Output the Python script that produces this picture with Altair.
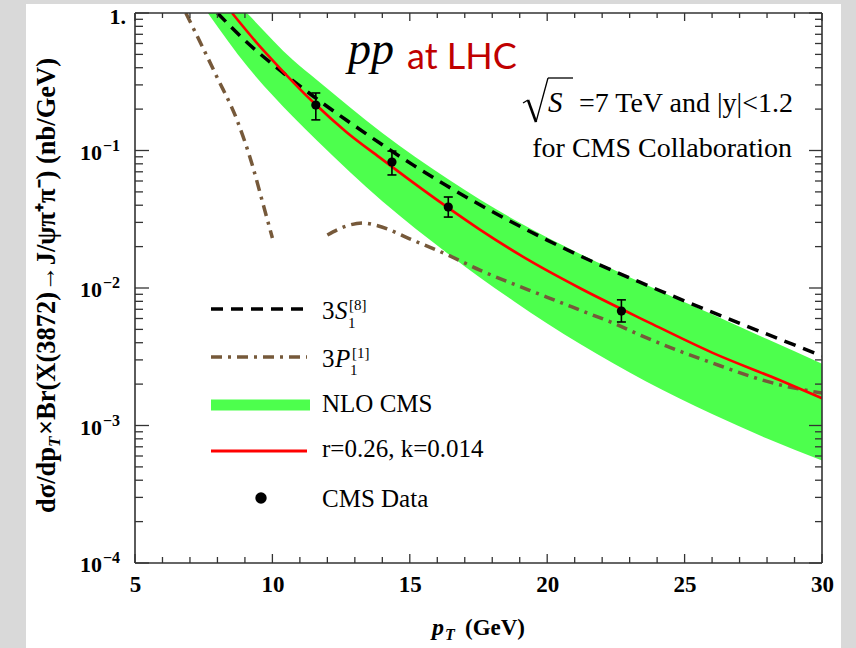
import altair as alt
import pandas as pd

# ---------------- data ----------------
band_pt = [7.65, 9.1, 10.75, 11.62, 14.0, 16.4, 17.55, 18.8, 20.0, 21.2, 23.6, 26.0, 28.0, 30.0]
band_lo = [1.0, 0.406, 0.176, 0.118, 0.0428, 0.0177, 0.0119, 0.00798, 0.00552, 0.00391, 0.00209, 0.00121, 0.000804, 0.000556]
band_hi = [1.95, 0.986, 0.455, 0.326, 0.134, 0.0618, 0.0441, 0.0314, 0.0233, 0.0177, 0.01057, 0.00643, 0.00425, 0.00281]

red_pt = [8.53, 9.4, 10.27, 11.47, 12.7, 13.9, 15.1, 16.35, 17.55, 19.36, 21.18, 23.6, 26.0, 28.45, 30.0]
red_v = [1.0, 0.617, 0.398, 0.226, 0.136, 0.0891, 0.0589, 0.0389, 0.0266, 0.0158, 0.0100, 0.00575, 0.00339, 0.00214, 0.00158]

s8_pt = [8.0, 9.0, 10.27, 11.5, 12.7, 14.0, 15.1, 16.3, 17.55, 19.98, 21.2, 23.6, 26.0, 28.45, 30.0]
s8_v = [1.0, 0.631, 0.384, 0.247, 0.166, 0.110, 0.0789, 0.0561, 0.0403, 0.0224, 0.0171, 0.01054, 0.00667, 0.00425, 0.00321]

p1a_pt = [6.85, 7.98, 8.71, 9.29, 9.65, 10.0]
p1a_v = [1.0, 0.343, 0.167, 0.0759, 0.0415, 0.0231]
p1b_pt = [12.0, 12.6, 13.3, 13.8, 15.1, 16.35, 17.55, 19.98, 21.2, 22.4, 23.6, 26.0, 28.45, 30.0]
p1b_v = [0.0243, 0.0278, 0.0297, 0.0285, 0.0223, 0.0175, 0.0135, 0.0086, 0.0069, 0.00556, 0.00435, 0.00285, 0.00198, 0.00172]

cms_pt = [11.58, 14.35, 16.4, 22.7]
cms_v = [0.214, 0.0825, 0.0388, 0.0068]
cms_lo = [0.167, 0.0664, 0.0328, 0.00566]
cms_hi = [0.262, 0.099, 0.0459, 0.0082]

x_major = [5, 10, 15, 20, 25, 30]
x_minor = [6, 7, 8, 9, 11, 12, 13, 14, 16, 17, 18, 19, 21, 22, 23, 24, 26, 27, 28, 29]
y_major = [1e-4, 1e-3, 1e-2, 1e-1, 1.0]
y_pow = [1e-4, 1e-3, 1e-2, 1e-1]
y_sup = ["\u22124", "\u22123", "\u22122", "\u22121"]
y_minor = [m * d for d in [1e-4, 1e-3, 1e-2, 1e-1] for m in [2, 3, 4, 5, 6, 7, 8, 9]]

# ---------------- styling ----------------
W, H = 687, 550
GREEN = "#4dff4d"
BROWN = "#76593a"
FRAME = "#333333"
SERIF = "Liberation Serif"

xs = alt.Scale(domain=[5, 30], nice=False, zero=False)
ys = alt.Scale(type="log", domain=[1e-4, 1], nice=False)
xaxis = alt.Axis(values=x_major, format="d", title=None, ticks=False, tickSize=0, domain=False,
                 grid=False, labelFont=SERIF, labelFontWeight="bold", labelFontSize=23,
                 labelColor="black", labelPadding=10, labelFlush=False, labelOverlap=False)


def X(f):
    return alt.X(f"{f}:Q", scale=xs, axis=xaxis)


def Y(f):
    return alt.Y(f"{f}:Q", scale=ys, axis=None)


one = pd.DataFrame({"k": [0]})
band_df = pd.DataFrame({"pt": band_pt, "lo": band_lo, "hi": band_hi})
red_df = pd.DataFrame({"pt": red_pt, "v": red_v})
s8_df = pd.DataFrame({"pt": s8_pt, "v": s8_v})
p1a_df = pd.DataFrame({"pt": p1a_pt, "v": p1a_v})
p1b_df = pd.DataFrame({"pt": p1b_pt, "v": p1b_v})
cms_df = pd.DataFrame({"pt": cms_pt, "v": cms_v, "lo": cms_lo, "hi": cms_hi})
pow_df = pd.DataFrame({"t": y_pow, "sup": y_sup})

layers = []

# grey outer border (outside of the white page)
for (a, b, c, d) in [(-135, -109, -13, H + 85), (706, W + 34, -13, H + 85), (-135, W + 34, -13, -9)]:
    layers.append(alt.Chart(one).mark_rect(color="#d9d9d9").encode(
        x=alt.value(a), x2=alt.value(b), y=alt.value(c), y2=alt.value(d)))

# NLO band
layers.append(alt.Chart(band_df).mark_area(color=GREEN, opacity=1, interpolate="monotone", clip=True)
              .encode(x=X("pt"), y=Y("lo"), y2="hi:Q"))
# 3P1 (two pieces)
for df in (p1a_df, p1b_df):
    layers.append(alt.Chart(df).mark_line(color=BROWN, strokeWidth=3.5, strokeDash=[11, 6, 3, 6],
                                          interpolate="monotone", clip=True)
                  .encode(x=X("pt"), y=Y("v")))
# 3S1[8]
layers.append(alt.Chart(s8_df).mark_line(color="black", strokeWidth=3.5, strokeDash=[12, 8],
                                         interpolate="monotone", clip=True)
              .encode(x=X("pt"), y=Y("v")))
# r, k curve
layers.append(alt.Chart(red_df).mark_line(color="#ff0000", strokeWidth=2.6, interpolate="monotone", clip=True)
              .encode(x=X("pt"), y=Y("v")))
# CMS data
layers.append(alt.Chart(cms_df).mark_rule(color="black", strokeWidth=1.6)
              .encode(x=X("pt"), y=Y("lo"), y2="hi:Q"))
for f in ("lo", "hi"):
    layers.append(alt.Chart(cms_df).mark_point(shape="stroke", size=81, color="black", strokeWidth=1.6,
                                               filled=False, opacity=1)
                  .encode(x=X("pt"), y=Y(f)))
layers.append(alt.Chart(cms_df).mark_point(filled=True, size=85, color="black", opacity=1)
              .encode(x=X("pt"), y=Y("v")))

# frame
for enc in [dict(x=alt.value(0), y=alt.value(0), y2=alt.value(H)),
            dict(x=alt.value(W), y=alt.value(0), y2=alt.value(H)),
            dict(y=alt.value(0), x=alt.value(0), x2=alt.value(W)),
            dict(y=alt.value(H), x=alt.value(0), x2=alt.value(W))]:
    layers.append(alt.Chart(one).mark_rule(color=FRAME, strokeWidth=1.6).encode(**enc))

# inward ticks
xmaj = pd.DataFrame({"t": x_major})
xmin = pd.DataFrame({"t": x_minor})
ymaj = pd.DataFrame({"t": y_major})
ymin = pd.DataFrame({"t": y_minor})
tk = dict(color=FRAME, strokeWidth=1.3)
layers += [
    alt.Chart(xmaj).mark_rule(**tk).encode(x=X("t"), y=alt.value(H), y2=alt.value(H - 9)),
    alt.Chart(xmin).mark_rule(**tk).encode(x=X("t"), y=alt.value(H), y2=alt.value(H - 6)),
    alt.Chart(xmaj).mark_rule(**tk).encode(x=X("t"), y=alt.value(0), y2=alt.value(8)),
    alt.Chart(xmin).mark_rule(**tk).encode(x=X("t"), y=alt.value(0), y2=alt.value(5)),
    alt.Chart(ymaj).mark_rule(**tk).encode(y=Y("t"), x=alt.value(0), x2=alt.value(14)),
    alt.Chart(ymin).mark_rule(**tk).encode(y=Y("t"), x=alt.value(0), x2=alt.value(8)),
    alt.Chart(ymaj).mark_rule(**tk).encode(y=Y("t"), x=alt.value(W), x2=alt.value(W - 13)),
    alt.Chart(ymin).mark_rule(**tk).encode(y=Y("t"), x=alt.value(W), x2=alt.value(W - 7)),
]

# y tick labels: "10" with superscript exponent, "1." at the top
layers += [
    alt.Chart(pow_df).mark_text(text="10", font=SERIF, fontWeight="bold", fontSize=22, align="right",
                                baseline="middle", dy=2, color="black")
    .encode(y=Y("t"), x=alt.value(-33)),
    alt.Chart(pow_df).mark_text(font=SERIF, fontWeight="bold", fontSize=16, align="left",
                                baseline="alphabetic", dy=0, color="black")
    .encode(y=Y("t"), x=alt.value(-32), text="sup:N"),
    alt.Chart(pd.DataFrame({"t": [1.0]})).mark_text(text="1.", font=SERIF, fontWeight="bold", fontSize=22,
                                                     align="right", baseline="middle", dy=4, color="black")
    .encode(y=Y("t"), x=alt.value(-9)),
]


def txt(s, x, y, size, font=SERIF, color="black", align="left", style="normal", weight="normal",
        angle=0, baseline="alphabetic"):
    kw = dict(text=s, font=font, fontSize=size, color=color, align=align, fontStyle=style,
              fontWeight=weight, baseline=baseline)
    if angle:
        kw["angle"] = angle
    return alt.Chart(one).mark_text(**kw).encode(x=alt.value(x), y=alt.value(y))


def seg(x1, y1, x2, y2, w=1.3, color="black"):
    return alt.Chart(one).mark_rule(color=color, strokeWidth=w).encode(
        x=alt.value(x1), y=alt.value(y1), x2=alt.value(x2), y2=alt.value(y2))


# title-like annotations
layers += [
    txt("pp", 213, 51, 46, style="italic"),
    txt("at LHC", 272, 56, 36, font="Lato", color="#c00000"),
    seg(388, 90, 393, 87, 1.3),
    seg(393, 87, 401, 109, 2.6),
    seg(401, 109, 413, 65, 1.3),
    seg(413, 65, 438, 65, 1.3),
    txt("S", 413, 99, 29, style="italic"),
    txt("=7 TeV and |y|<1.2", 658, 99, 28, align="right"),
    txt("for CMS Collaboration", 657, 144, 28, align="right"),
]

# legend
layers += [
    alt.Chart(one).mark_rule(color="black", strokeWidth=3.5, strokeDash=[12, 8]).encode(
        x=alt.value(76), x2=alt.value(172), y=alt.value(296)),
    alt.Chart(one).mark_rule(color=BROWN, strokeWidth=3.5, strokeDash=[11, 6, 3, 6]).encode(
        x=alt.value(76), x2=alt.value(172), y=alt.value(344)),
    alt.Chart(one).mark_rule(color=GREEN, strokeWidth=11).encode(
        x=alt.value(76), x2=alt.value(175), y=alt.value(392)),
    alt.Chart(one).mark_rule(color="#ff0000", strokeWidth=3).encode(
        x=alt.value(76), x2=alt.value(172), y=alt.value(438)),
    alt.Chart(one).mark_point(filled=True, size=130, color="black", opacity=1).encode(
        x=alt.value(126), y=alt.value(485)),
    txt("3", 187, 306, 25), txt("S", 200, 306, 25, style="italic"),
    txt("[8]", 214, 297, 15), txt("1", 213, 315, 15),
    txt("3", 187, 354, 25), txt("P", 200, 354, 25, style="italic"),
    txt("[1]", 217, 345, 15), txt("1", 215, 362, 15),
    txt("NLO CMS", 187, 399, 25),
    txt("r=0.26, k=0.014", 187, 444, 25),
    txt("CMS Data", 187, 494, 25),
]

# axis titles
layers += [
    txt("p", 297, 622, 24, style="italic", weight="bold"),
    txt("T", 310, 627, 16, style="italic", weight="bold"),
    txt("(GeV)", 330, 622, 23, weight="bold"),
    txt("d\u03c3/dp", -80, 500, 26.5, weight="bold", angle=270),
    txt("T", -75, 434, 17, weight="bold", style="italic", angle=270),
    txt("\u00d7Br(X(3872)\u2192J/\u03c8\u03c0\u207a\u03c0\u207b) (nb/GeV)", -80, 422, 26.5, weight="bold", angle=270),
]

chart = alt.layer(*layers).properties(
    width=W, height=H,
    padding={"left": 135, "top": 13, "right": 34, "bottom": 85},
    autosize=alt.AutoSizeParams(type="none"),
    background="white",
).configure_view(stroke=None)

chart.save("out.html", embed_options={"renderer": "svg", "actions": False})
